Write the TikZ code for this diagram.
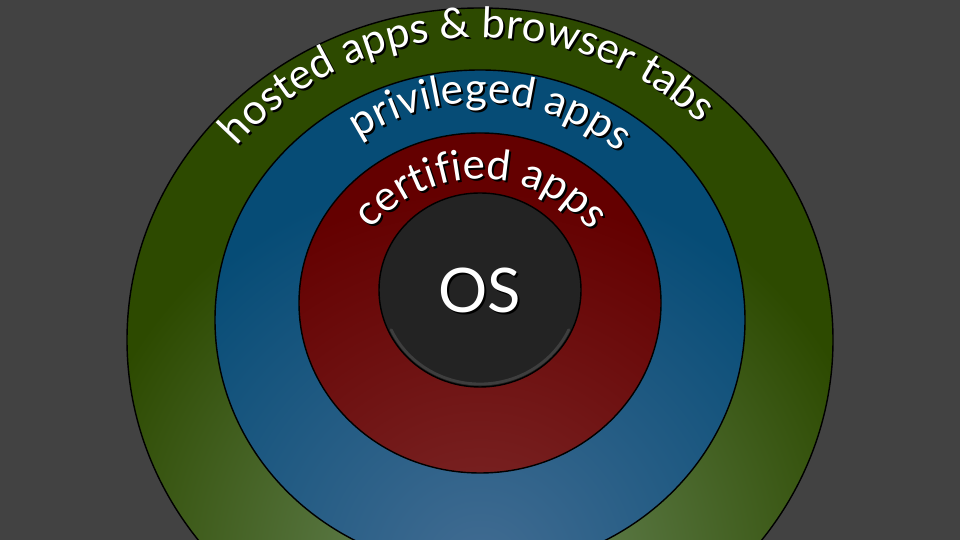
\documentclass[tikz,border=0pt]{standalone}
\usepackage{fontspec}
\setmainfont{Lato}
\usetikzlibrary{decorations.text}
\definecolor{bg}{RGB}{66,66,66}
\definecolor{greentop}{RGB}{45,74,0}
\definecolor{greenlow}{RGB}{108,138,96}
\definecolor{bluetop}{RGB}{6,76,118}
\definecolor{bluelow}{RGB}{66,108,146}
\definecolor{redtop}{RGB}{100,0,0}
\definecolor{redlow}{RGB}{125,42,42}
\definecolor{osfill}{RGB}{35,35,35}
\definecolor{osrim}{RGB}{62,62,62}
\newcommand\ringfont{\fontsize{24}{28}\selectfont}
\tikzset{
  ring/.style={draw=black, line width=0.8pt},
  ringtext/.style={decorate, decoration={text along path, text align=center, text={#1}}},
  ostext/.style={font=\fontsize{35}{40}\selectfont, inner sep=0pt},
}
\begin{document}
\begin{tikzpicture}[x=0.02cm, y=0.02cm, line join=round, line cap=round]
	\fill[bg] (0,0) rectangle (960,540);
	\useasboundingbox (0,0) rectangle (960,540);
	\clip (0,0) rectangle (960,540);
	% rings, outside in, lit from below
	\begin{scope}
		\clip (480,200) ellipse [x radius=353, y radius=332];
		\fill[greentop] (0,0) rectangle (960,540);
		\shade[inner color=greenlow, outer color=greentop] (480,-30) circle (410);
	\end{scope}
	\draw[ring] (480,200) ellipse [x radius=353, y radius=332];
	\begin{scope}
		\clip (480,220) ellipse [x radius=265, y radius=250];
		\fill[bluetop] (0,0) rectangle (960,540);
		\shade[inner color=bluelow, outer color=bluetop] (480,-30) circle (400);
	\end{scope}
	\draw[ring] (480,220) ellipse [x radius=265, y radius=250];
	\begin{scope}
		\clip (480,237) ellipse [x radius=181, y radius=170];
		\fill[redtop] (0,0) rectangle (960,540);
		\shade[inner color=redlow, outer color=redtop] (480,-30) circle (380);
	\end{scope}
	\draw[ring] (480,237) ellipse [x radius=181, y radius=170];
	\draw[ring, fill=osfill] (480,250) ellipse [x radius=101, y radius=97];
	\draw[osrim, line width=1.6pt] (480,250) ++(205:98 and 94) arc[start angle=205, end angle=335, x radius=98, y radius=94];
	% labels with shadow
	\foreach \tcol/\off in {black/2, white/0} {
		\begin{scope}[shift={(\off,-\off)}]
			\path[ringtext={|\ringfont\color{\tcol}|hosted apps {\&} browser tabs}] (480,177.4) ++(155:325) arc[start angle=155, end angle=30.7, radius=325];
			\path[ringtext={|\ringfont\color{\tcol}|privileged apps}] (480,217) ++(145:220) arc[start angle=145, end angle=29.3, radius=220];
			\path[ringtext={|\ringfont\color{\tcol}|certified apps}] (480,218) ++(152.5:143) arc[start angle=152.5, end angle=26.7, radius=143];
		\end{scope}
	}
	\node[ostext, text=black] (osshadow) at (482,248) {OS};
	\node[ostext, text=white] (os) at (480,250) {OS};
\end{tikzpicture}
\end{document}
